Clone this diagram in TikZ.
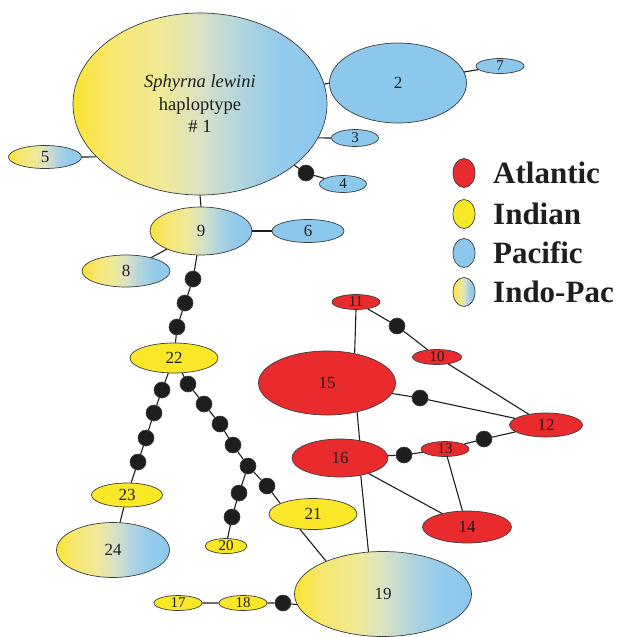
\documentclass[tikz,border=0pt]{standalone}
\usepackage{fontspec}
\setmainfont{Liberation Serif}
\usetikzlibrary{shapes.geometric}
\definecolor{atl}{RGB}{233,43,46}
\definecolor{ind}{RGB}{250,232,40}
\definecolor{pac}{RGB}{140,200,236}
\definecolor{rim}{RGB}{60,60,60}
\definecolor{ink}{RGB}{30,30,30}
\definecolor{gA}{RGB}{250,228,50}
\definecolor{gB}{RGB}{247,230,110}
\definecolor{gC}{RGB}{240,233,150}
\definecolor{gD}{RGB}{218,226,195}
\definecolor{gE}{RGB}{180,213,222}
\definecolor{gF}{RGB}{150,203,234}
\pgfdeclarehorizontalshading{ipshade}{100bp}{color(0bp)=(gA); color(25bp)=(gA); color(32.5bp)=(gB); color(42.5bp)=(gC); color(50bp)=(gD); color(57.5bp)=(gE); color(65bp)=(gF); color(75bp)=(pac); color(100bp)=(pac)}
\tikzset{
  ell/.style={ellipse, draw=rim, line width=0.7pt, inner sep=0pt, text=ink, font=\fontsize{17}{20}\selectfont},
  sm/.style={ell, font=\fontsize{15}{18}\selectfont},
  atlc/.style={fill=atl},
  indc/.style={fill=ind},
  pacc/.style={fill=pac},
  ipc/.style={shading=ipshade},
  mdot/.style={circle, fill=ink, draw=rim, line width=0.6pt, minimum size=16pt, inner sep=0pt},
  edge/.style={draw=ink, line width=1.1pt},
  legtext/.style={anchor=west, text=ink, font=\fontsize{31}{34}\selectfont\bfseries, inner sep=0pt}
}
\begin{document}
\begin{tikzpicture}[x=1pt,y=-1pt]
\useasboundingbox (0,0) rectangle (618,637);
% nodes
\node[ell,ipc,minimum width=254pt,minimum height=182pt,align=center,font=\fontsize{18.5}{22.5}\selectfont] (n1) at (200,104) {\textit{Sphyrna lewini}\\haploptype\\\# 1};
\node[ell,pacc,minimum width=137pt,minimum height=80pt] (n2) at (398,83) {2};
\node[sm,pacc,minimum width=48pt,minimum height=15pt] (n7) at (500,66) {7};
\node[sm,pacc,minimum width=47pt,minimum height=17pt] (n3) at (355,138) {3};
\node[sm,pacc,minimum width=47pt,minimum height=17pt] (n4) at (343,184) {4};
\node[mdot] (d4) at (306,173) {};
\node[ell,ipc,minimum width=73pt,minimum height=23pt] (n5) at (45,157) {5};
\node[ell,ipc,minimum width=102pt,minimum height=48pt] (n9) at (201,231) {9};
\node[ell,pacc,minimum width=72pt,minimum height=23pt] (n6) at (308,231) {6};
\node[ell,ipc,minimum width=88pt,minimum height=32pt] (n8) at (126,271) {8};
\node[ell,indc,minimum width=88pt,minimum height=30pt] (n22) at (174,358) {22};
\node[mdot] (a1) at (193,279) {};
\node[mdot] (a2) at (185,303) {};
\node[mdot] (a3) at (177,327) {};
% chain to 23
\node[mdot] (b1) at (162,390) {};
\node[mdot] (b2) at (154,413) {};
\node[mdot] (b3) at (146,438) {};
\node[mdot] (b4) at (138,462) {};
\node[ell,indc,minimum width=71pt,minimum height=24pt] (n23) at (127,495) {23};
\node[ell,ipc,minimum width=113pt,minimum height=55pt] (n24) at (113,550) {24};
% chain to 21 and 20
\node[mdot] (c1) at (188,384) {};
\node[mdot] (c2) at (204,404) {};
\node[mdot] (c3) at (220,424) {};
\node[mdot] (c4) at (233,445) {};
\node[mdot] (c5) at (248,466) {};
\node[mdot] (c6) at (267,486) {};
\node[mdot] (e1) at (239,493) {};
\node[mdot] (e2) at (232,517) {};
\node[ell,indc,minimum width=88pt,minimum height=31pt] (n21) at (313,514) {21};
\node[sm,indc,minimum width=42pt,minimum height=15pt] (n20) at (226,546) {20};
% bottom
\node[ell,ipc,minimum width=177pt,minimum height=85pt] (n19) at (383,594) {19};
\node[sm,indc,minimum width=48pt,minimum height=15pt] (n17) at (178,603) {17};
\node[sm,indc,minimum width=48pt,minimum height=15pt] (n18) at (243,603) {18};
\node[mdot] (f1) at (283,603) {};
% Atlantic
\node[sm,atlc,minimum width=48pt,minimum height=15pt] (n11) at (356,302) {11};
\node[sm,atlc,minimum width=49pt,minimum height=15pt] (n10) at (437,357) {10};
\node[ell,atlc,minimum width=137pt,minimum height=64pt] (n15) at (327,383) {15};
\node[ell,atlc,minimum width=73pt,minimum height=24pt] (n12) at (546,425) {12};
\node[sm,atlc,minimum width=48pt,minimum height=15pt] (n13) at (445,449) {13};
\node[ell,atlc,minimum width=96pt,minimum height=38pt] (n16) at (340,458) {16};
\node[ell,atlc,minimum width=89pt,minimum height=32pt] (n14) at (467,527) {14};
\node[mdot] (g1) at (397,326) {};
\node[mdot] (g2) at (420,398) {};
\node[mdot] (g3) at (404,455) {};
\node[mdot] (g4) at (484,439) {};
% edges
\path[edge] (n5.east) -- (n1.207);
\path[edge] (n1.9) -- (n2.west);
\path[edge] (n2) -- (n7);
\path[edge] (n1.344) -- (n3.west);
\path[edge] (n1) -- (d4) -- (n4);
\path[edge] (n1.south) -- (n9.north);
\path[edge] (n9.east) -- (n6.west);
\path[edge] (n9) -- (n8);
\path[edge] (n9) -- (a1) -- (a2) -- (a3) -- (n22);
\path[edge] (n22) -- (b1) -- (b2) -- (b3) -- (b4) -- (n23);
\path[edge] (n23) -- (n24);
\path[edge] (n22) -- (c1) -- (c2) -- (c3) -- (c4) -- (c5) -- (c6) -- (n21.162);
\path[edge] (c5) -- (e1) -- (e2) -- (n20);
\path[edge] (n21.229) -- (n19.150);
\path[edge] (n17) -- (n18) -- (f1) -- (n19.187);
\path[edge] (n11) -- (g1) -- (n10);
\path[edge] (n11.south) -- (n15.47);
\path[edge] (n10) -- (n12);
\path[edge] (n15) -- (g2) -- (n12);
\path[edge] (n15.316) -- (n16.42);
\path[edge] (n16) -- (g3) -- (n13) -- (g4) -- (n12);
\path[edge] (n13) -- (n14);
\path[edge] (n16) -- (n14);
\path[edge] (n16.320) -- (n19.109);
% legend
\node[ell,atlc,minimum width=22pt,minimum height=29pt] (l1) at (464,173) {};
\node[ell,indc,minimum width=22pt,minimum height=29pt] (l2) at (464,214) {};
\node[ell,pacc,minimum width=22pt,minimum height=29pt] (l3) at (464,253) {};
\node[ell,ipc,minimum width=22pt,minimum height=29pt] (l4) at (464,292) {};
\node[legtext] (t1) at (493,173) {Atlantic};
\node[legtext] (t2) at (493,214) {Indian};
\node[legtext] (t3) at (493,253) {Pacific};
\node[legtext] (t4) at (493,292) {Indo-Pac};
\end{tikzpicture}
\end{document}
